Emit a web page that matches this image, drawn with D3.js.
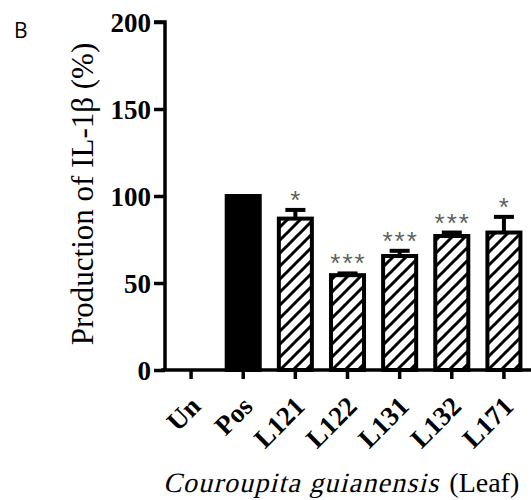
<!DOCTYPE html>
<html>
<head>
<meta charset="utf-8">
<script src="https://cdn.jsdelivr.net/npm/d3@7"></script>
<style>
  body { margin: 0; background: #fff; }
  svg { display: block; }
  .serif { font-family: "Liberation Serif", "Times New Roman", serif; }
</style>
</head>
<body>
<svg id="chart" width="531" height="500"></svg>
<script>
const categories = ["Un", "Pos", "L121", "L122", "L131", "L132", "L171"];
const values = [0, 100, 87, 54.5, 65.5, 77, 79];
const errors = [0, 0, 5, 1, 3, 2, 9];
const stars = ["", "", "*", "***", "***", "***", "*"];
const yTicks = [0, 50, 100, 150, 200];

const svg = d3.select("#chart");

const x = d3.scaleBand()
    .domain(categories)
    .range([165, 530])
    .paddingInner(0.29)
    .paddingOuter(0.145);

const y = d3.scaleLinear()
    .domain([0, 200])
    .range([370, 22]);

// hatch pattern
const defs = svg.append("defs");
defs.append("pattern")
    .attr("id", "hatch")
    .attr("patternUnits", "userSpaceOnUse")
    .attr("width", 13)
    .attr("height", 13)
    .append("path")
    .attr("d", "M-2,15 L15,-2 M-4,4 L4,-4 M9,17 L17,9")
    .attr("stroke", "#000")
    .attr("stroke-width", 3);

// bars
const bars = svg.append("g");
categories.forEach((c, i) => {
    if (values[i] <= 0) return;
    const x0 = x(c);
    const w = x.bandwidth();
    const top = y(values[i] + errors[i]);
    // error bar
    if (errors[i] > 0) {
        bars.append("line")
            .attr("x1", x0 + w / 2).attr("x2", x0 + w / 2)
            .attr("y1", y(values[i])).attr("y2", top)
            .attr("stroke", "#000").attr("stroke-width", 4);
        bars.append("line")
            .attr("x1", x0 + w / 2 - 10).attr("x2", x0 + w / 2 + 10)
            .attr("y1", top).attr("y2", top)
            .attr("stroke", "#000").attr("stroke-width", 4);
    }
    bars.append("rect")
        .attr("x", x0 + 2)
        .attr("y", y(values[i]))
        .attr("width", w - 4)
        .attr("height", y(0) - y(values[i]))
        .attr("fill", c === "Pos" ? "#000" : "url(#hatch)")
        .attr("stroke", "#000")
        .attr("stroke-width", 4);
    if (stars[i]) {
        svg.append("text")
            .attr("x", x0 + w / 2 + 1)
            .attr("y", top - 1)
            .attr("text-anchor", "middle")
            .attr("font-family", "Liberation Sans, sans-serif")
            .attr("font-size", 26)
            .attr("fill", "#5f5f5f")
            .attr("letter-spacing", 2)
            .text(stars[i]);
    }
});

// y axis
const yAxis = svg.append("g")
    .attr("transform", "translate(165,0)")
    .call(d3.axisLeft(y).tickValues(yTicks).tickSize(11).tickPadding(3));
yAxis.select(".domain").attr("stroke-width", 3.5).attr("d", `M-11,${y(200)}H0V${y(0)}`);
yAxis.selectAll(".tick line").attr("stroke-width", 3.5);
yAxis.selectAll(".tick text")
    .attr("class", "serif")
    .attr("font-weight", "bold")
    .attr("font-size", 27)
    .attr("fill", "#000")
    .attr("dy", "0.34em");

// x axis
const xAxis = svg.append("g")
    .attr("transform", `translate(0,${y(0)})`)
    .call(d3.axisBottom(x).tickSize(9).tickSizeOuter(0));
xAxis.select(".domain").attr("stroke-width", 3.5).attr("d", "M161,0H531");
xAxis.selectAll(".tick line").attr("stroke-width", 3.5);
xAxis.selectAll(".tick text")
    .attr("class", "serif")
    .attr("font-weight", "bold")
    .attr("font-size", 27)
    .attr("fill", "#000")
    .attr("text-anchor", "end")
    .attr("x", 0)
    .attr("y", 0)
    .attr("dy", 0)
    .attr("transform", "translate(11,38) rotate(-45)");
svg.selectAll("g[font-family]").attr("font-family", null);

// axis titles
svg.append("text")
    .attr("class", "serif")
    .attr("transform", `translate(93,194) rotate(-90)`)
    .attr("text-anchor", "middle")
    .attr("font-size", 31)
    .attr("fill", "#000")
    .text("Production of IL-1β (%)");

// x title: italic species name (slanted serif) + "(Leaf)"
const species = svg.append("text")
    .attr("class", "serif")
    .attr("transform", "translate(163,492) skewX(-14)")
    .attr("font-size", 28)
    .attr("letter-spacing", 1.2)
    .attr("fill", "#000")
    .text("Couroupita guianensis");
const speciesW = species.node().getComputedTextLength();
svg.append("text")
    .attr("class", "serif")
    .attr("x", 163 + speciesW + 10)
    .attr("y", 492)
    .attr("font-size", 28)
    .attr("fill", "#000")
    .text("(Leaf)");

svg.append("text")
    .attr("x", 14)
    .attr("y", 38)
    .attr("font-family", "Open Sans, sans-serif")
    .attr("font-size", 21)
    .attr("fill", "#000")
    .text("B");
</script>
</body>
</html>
